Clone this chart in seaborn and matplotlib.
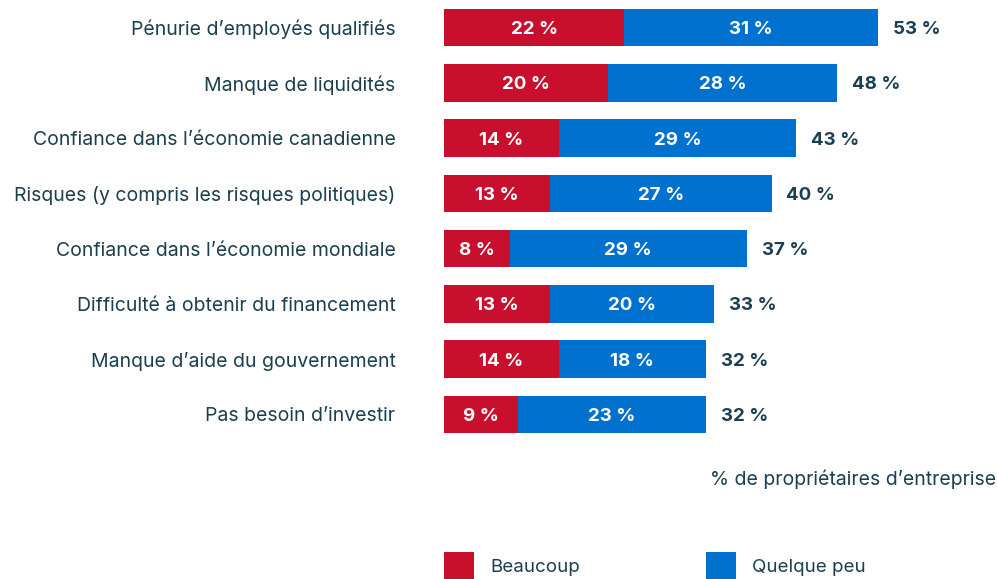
import numpy as np
import pandas as pd
import matplotlib.pyplot as plt
import seaborn as sns
from matplotlib.patches import Rectangle

# data
categories = [
    "Pénurie d’employés qualifiés",
    "Manque de liquidités",
    "Confiance dans l’économie canadienne",
    "Risques (y compris les risques politiques)",
    "Confiance dans l’économie mondiale",
    "Difficulté à obtenir du financement",
    "Manque d’aide du gouvernement",
    "Pas besoin d’investir",
]
beaucoup = [22, 20, 14, 13, 8, 13, 14, 9]
quelque_peu = [31, 28, 29, 27, 29, 20, 18, 23]
totals = [53, 48, 43, 40, 37, 33, 32, 32]

RED = "#C8102E"
BLUE = "#0071CE"
TEXT = "#1B3F50"

sns.set_theme(style="white")
plt.rcParams["font.family"] = ["Inter", "DejaVu Sans"]

df = pd.DataFrame({
    "categorie": categories,
    "beaucoup": beaucoup,
    "quelque_peu": quelque_peu,
})
df["cumul"] = df["beaucoup"] + df["quelque_peu"]

fig = plt.figure(figsize=(9.97, 5.79), dpi=100)
ax = fig.add_axes([444 / 997, 1 - 442 / 579, 553 / 997, 442 / 579])

# stacked bars: full length in blue, red segment drawn over it
sns.barplot(data=df, y="categorie", x="cumul", color=BLUE, width=0.68,
            saturation=1, linewidth=0, ax=ax, orient="h")
sns.barplot(data=df, y="categorie", x="beaucoup", color=RED, width=0.68,
            saturation=1, linewidth=0, ax=ax, orient="h")

ax.set_xlim(0, 553 / 8.19)
ax.set_ylim(len(categories) - 0.5, -0.5)
ax.set_xlabel("")
ax.set_ylabel("")
ax.set_xticks([])
ax.tick_params(axis="y", length=0, pad=35, labelsize=14, labelcolor=TEXT)
sns.despine(ax=ax, left=True, bottom=True)

for i, (b, q, t) in enumerate(zip(beaucoup, quelque_peu, totals)):
    ax.text(b / 2, i, f"{b} %", ha="center", va="center_baseline",
            color="white", fontsize=13.5, fontweight="bold")
    ax.text(b + q / 2, i, f"{q} %", ha="center", va="center_baseline",
            color="white", fontsize=13.5, fontweight="bold")
    ax.text(t + 1.8, i, f"{t} %", ha="left", va="center_baseline",
            color=TEXT, fontsize=13.5, fontweight="bold")

fig.text(996 / 997, 1 - 479 / 579, "% de propriétaires d’entreprise",
         ha="right", va="center", color=TEXT, fontsize=14)

# legend
for x0, col, lab in [(444, RED, "Beaucoup"), (706, BLUE, "Quelque peu")]:
    fig.add_artist(Rectangle((x0 / 997, 0), 30 / 997, 27 / 579,
                             transform=fig.transFigure, color=col, lw=0))
    fig.text((x0 + 46) / 997, 1 - 567 / 579, lab, ha="left", va="center",
             color=TEXT, fontsize=13.5)

plt.savefig("out.png", dpi=100)
plt.close()
